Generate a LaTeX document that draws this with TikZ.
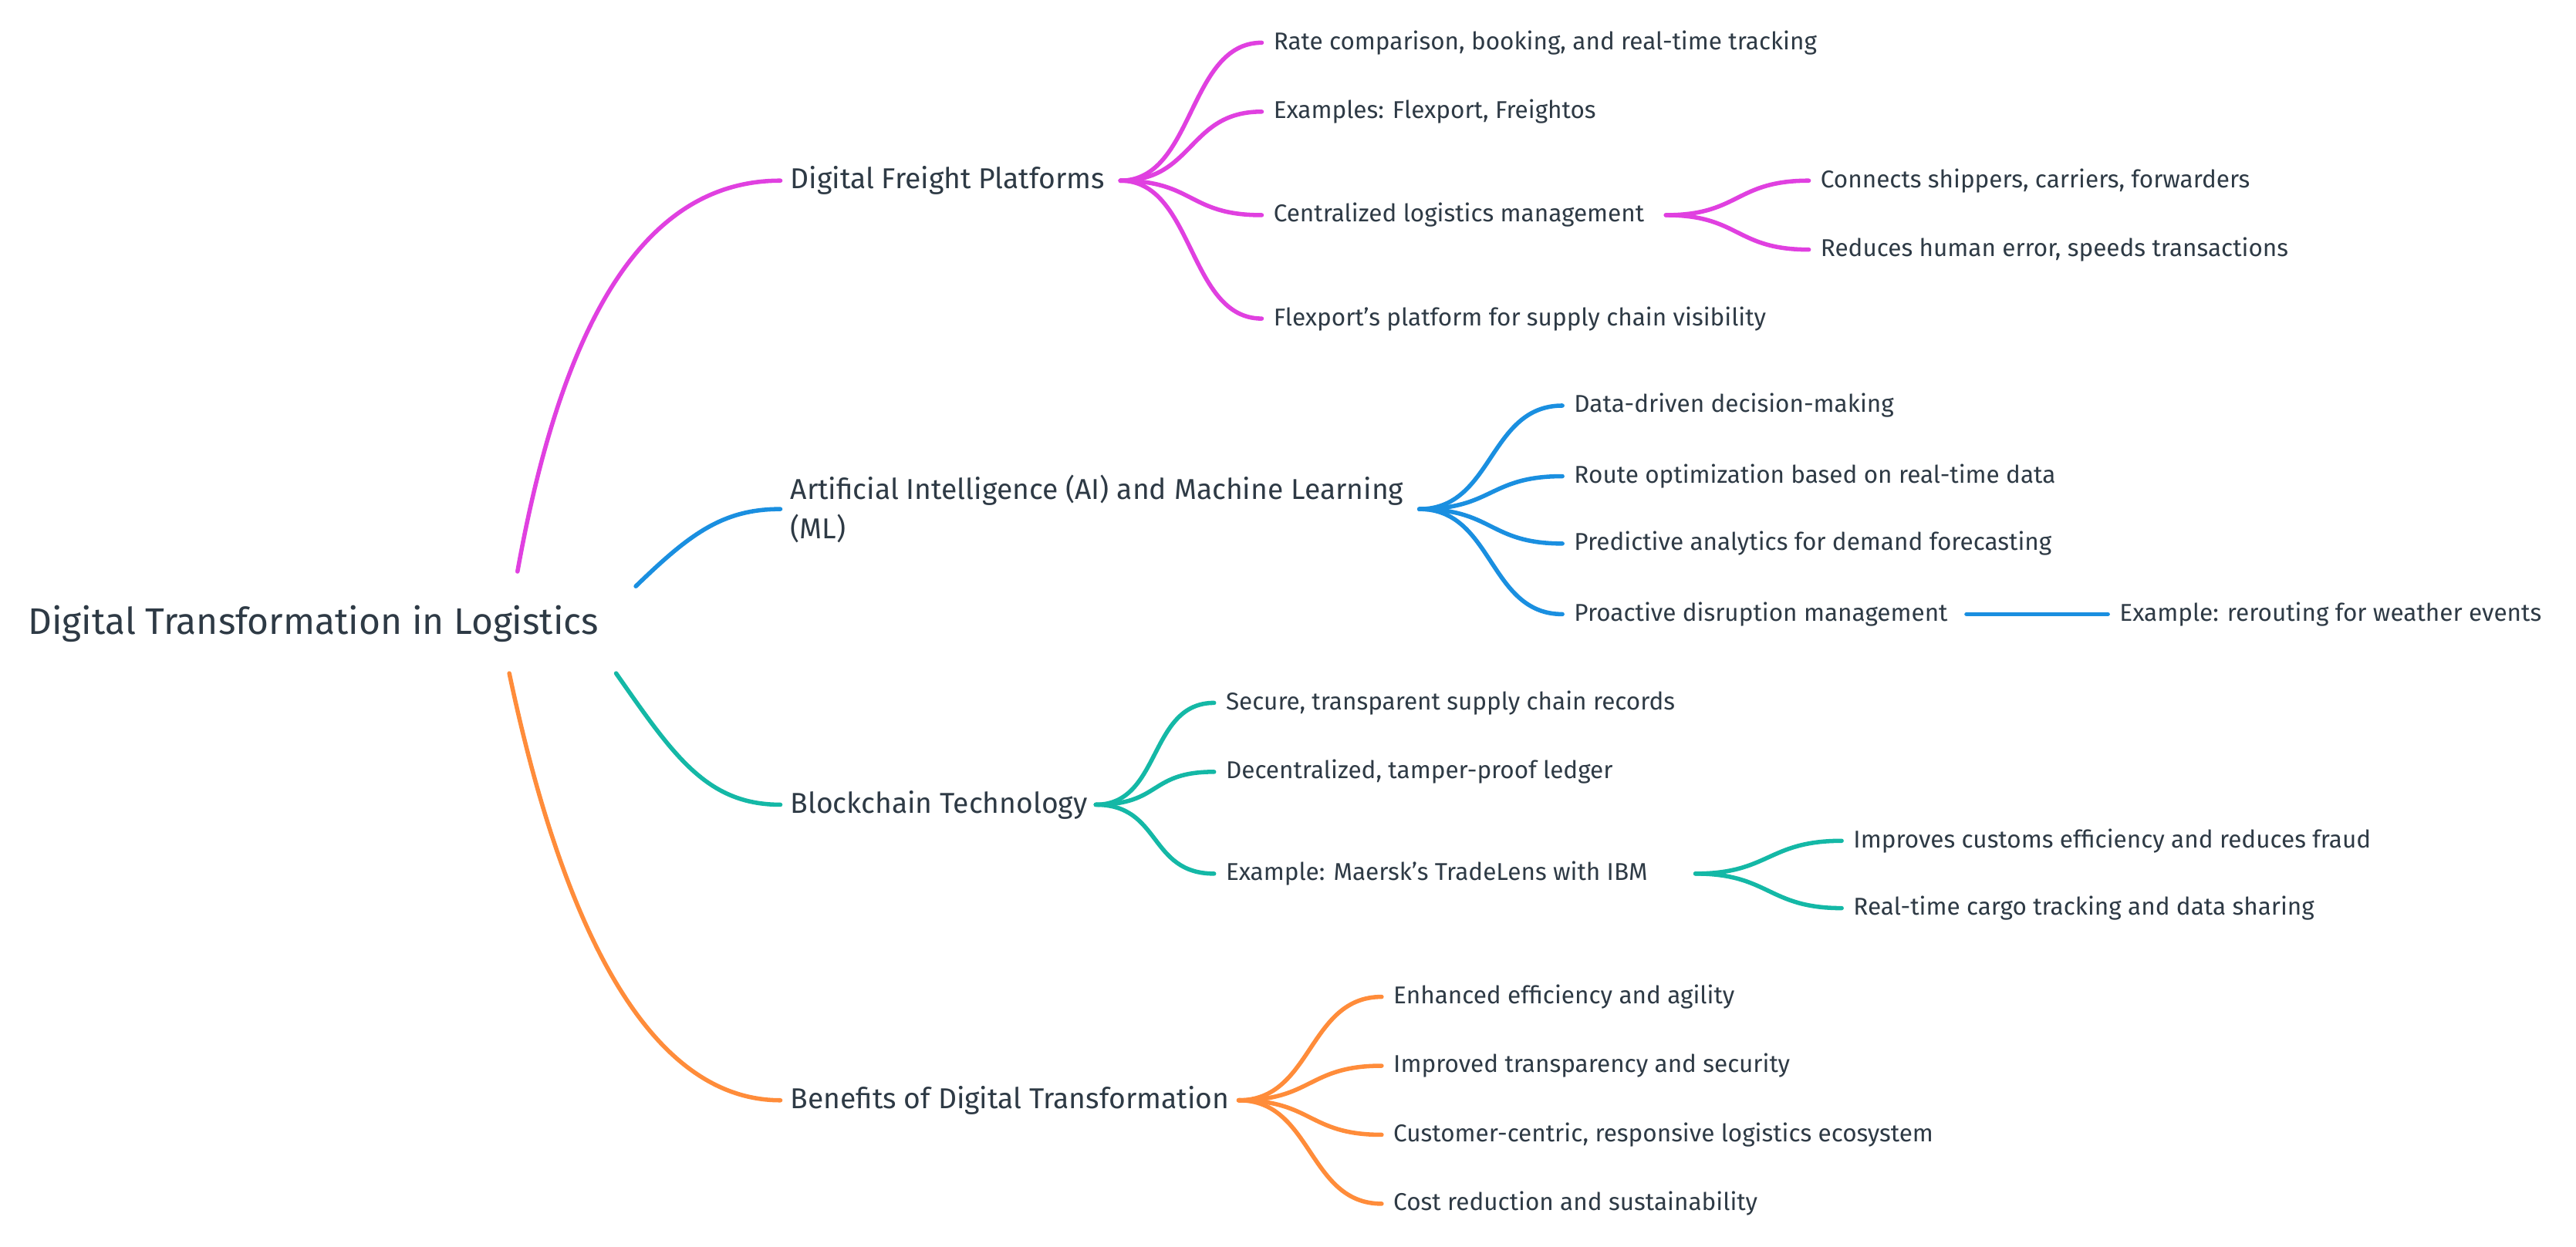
\documentclass[tikz,border=0pt]{standalone}
\usepackage{fontspec}
\setmainfont{Fira Sans}
\definecolor{colM}{HTML}{E040E0}
\definecolor{colB}{HTML}{1A8FE0}
\definecolor{colT}{HTML}{14B8A6}
\definecolor{colO}{HTML}{FF8C3A}
\definecolor{tx}{HTML}{2E3A45}
\begin{document}
\begin{tikzpicture}[x=1pt,y=-1pt,
  t/.style={anchor=west,inner sep=0pt,text=tx,font=\fontsize{14.8}{18}\selectfont},
  l1/.style={anchor=west,inner sep=0pt,text=tx,font=\fontsize{17.5}{24}\selectfont,align=left},
  e/.style={line width=2.6pt,line cap=round}]
\useasboundingbox[fill=white] (0,0) rectangle (1568,759);
\node[anchor=west,inner sep=0pt,text=tx,font=\fontsize{22.5}{26}\selectfont] (root) at (17,380) {Digital Transformation in Logistics};
\node[l1] (a) at (481,110) {Digital Freight Platforms};
\node[l1] (b) at (481,310) {Artificial Intelligence (AI) and Machine Learning\\(ML)};
\node[l1] (c) at (481,490) {Blockchain Technology};
\node[l1] (d) at (481,670) {Benefits of Digital Transformation};
\coordinate (ra) at (315,348);
\coordinate (rb) at (387,357);
\coordinate (rc) at (375,410);
\coordinate (rd) at (310,410);
\draw[e,colM] (ra) .. controls (345,180) and (400,110) .. ([xshift=-6]a.west);
\draw[e,colB] (rb) .. controls (420,325) and (440,310) .. ([xshift=-6]b.west);
\draw[e,colT] (rc) .. controls (410,460) and (430,490) .. ([xshift=-6]c.west);
\draw[e,colO] (rd) .. controls (350,600) and (410,670) .. ([xshift=-6]d.west);
% a children
\node[t] (a1) at (775,26) {Rate comparison, booking, and real-time tracking};
\node[t] (a2) at (775,68) {Examples: Flexport, Freightos};
\node[t] (a3) at (775,131) {Centralized logistics management};
\node[t] (a4) at (775,194) {Flexport's platform for supply chain visibility};
\node[t] (a31) at (1108,110) {Connects shippers, carriers, forwarders};
\node[t] (a32) at (1108,152) {Reduces human error, speeds transactions};
\coordinate (ao) at (682,110);
\foreach \n in {a1,a2,a3,a4} \draw[e,colM] (ao) .. controls +(45,0) and +(-45,0) .. ([xshift=-7]\n.west);
\coordinate (a3o) at (1014,131);
\foreach \n in {a31,a32} \draw[e,colM] (a3o) .. controls +(45,0) and +(-45,0) .. ([xshift=-7]\n.west);
% b children
\node[t] (b1) at (958,247) {Data-driven decision-making};
\node[t] (b2) at (958,290) {Route optimization based on real-time data};
\node[t] (b3) at (958,331) {Predictive analytics for demand forecasting};
\node[t] (b4) at (958,374) {Proactive disruption management};
\node[t] (b41) at (1290,374) {Example: rerouting for weather events};
\coordinate (bo) at (864,310);
\foreach \n in {b1,b2,b3,b4} \draw[e,colB] (bo) .. controls +(45,0) and +(-45,0) .. ([xshift=-7]\n.west);
\draw[e,colB] (1197,374) -- ([xshift=-7]b41.west);
% c children
\node[t] (c1) at (746,428) {Secure, transparent supply chain records};
\node[t] (c2) at (746,470) {Decentralized, tamper-proof ledger};
\node[t] (c3) at (746,532) {Example: Maersk's TradeLens with IBM};
\node[t] (c31) at (1128,512) {Improves customs efficiency and reduces fraud};
\node[t] (c32) at (1128,553) {Real-time cargo tracking and data sharing};
\coordinate (co0) at (667,490);
\foreach \n in {c1,c2,c3} \draw[e,colT] (co0) .. controls +(40,0) and +(-40,0) .. ([xshift=-7]\n.west);
\coordinate (c3o) at (1032,532);
\foreach \n in {c31,c32} \draw[e,colT] (c3o) .. controls +(45,0) and +(-45,0) .. ([xshift=-7]\n.west);
% d children
\node[t] (d1) at (848,607) {Enhanced efficiency and agility};
\node[t] (d2) at (848,649) {Improved transparency and security};
\node[t] (d3) at (848,691) {Customer-centric, responsive logistics ecosystem};
\node[t] (d4) at (848,733) {Cost reduction and sustainability};
\coordinate (do) at (754,670);
\foreach \n in {d1,d2,d3,d4} \draw[e,colO] (do) .. controls +(45,0) and +(-45,0) .. ([xshift=-7]\n.west);
\end{tikzpicture}
\end{document}
